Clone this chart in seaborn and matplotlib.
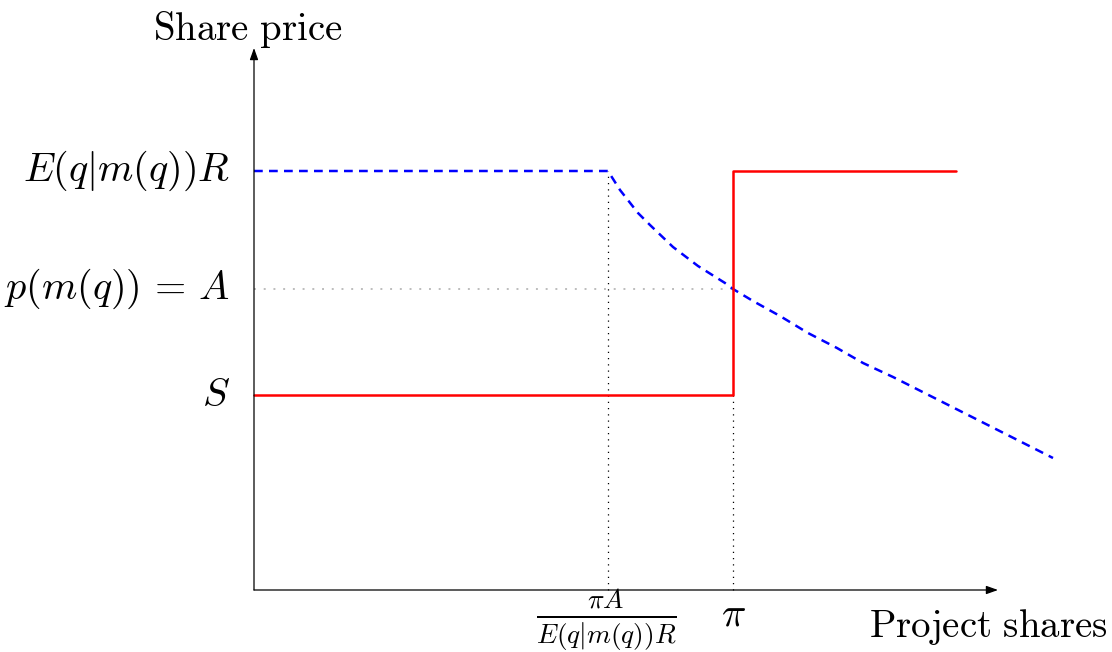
import matplotlib
matplotlib.use('Agg')
import matplotlib.pyplot as plt
import seaborn as sns

# Values (arbitrary units, origin at the axes corner)
x_cut = 3.54        # pi*A / E(q|m(q))R
x_pi = 4.79         # pi
x_red_end = 7.02
y_er = 4.19         # E(q|m(q))R
y_a = 3.01          # p(m(q)) = A
y_s = 1.95          # S

blue_x = [0, 3.54, 3.66, 3.84, 3.96, 4.19, 4.44, 4.71, 4.79, 4.99, 5.26,
          5.54, 5.83, 6.09, 6.39, 7.99]
blue_y = [4.19, 4.19, 4.00, 3.77, 3.65, 3.43, 3.24, 3.07, 3.01, 2.89, 2.74,
          2.57, 2.42, 2.27, 2.13, 1.32]

red_x = [0, x_pi, x_pi, x_red_end]
red_y = [y_s, y_s, y_er, y_er]

x_axis_end = 7.44
y_axis_end = 5.42

sns.set_style('white')
plt.rcParams['mathtext.fontset'] = 'cm'
plt.rcParams['font.family'] = ['DejaVu Serif']
plt.rcParams['text.color'] = 'black'

fig = plt.figure(figsize=(11.12, 6.52), dpi=100)
ax = fig.add_axes([0, 0, 1, 1])
ax.set_xlim(-2.54, 8.58)
ax.set_ylim(-0.62, 5.90)
ax.axis('off')

# guide lines
ax.plot([0, x_pi], [y_a, y_a], color='#bdbdbd', lw=1.4, linestyle=(0, (1, 4)))
ax.plot([x_cut, x_cut], [0, y_er], color='black', lw=0.9, linestyle=(0, (1, 4)))
ax.plot([x_pi, x_pi], [0, y_s], color='black', lw=0.9, linestyle=(0, (1, 4)))

sns.lineplot(x=blue_x, y=blue_y, ax=ax, color='blue', lw=1.8, sort=False,
             estimator=None, dashes=False, linestyle=(0, (3.5, 2.5)))
sns.lineplot(x=red_x, y=red_y, ax=ax, color='red', lw=1.8, sort=False,
             estimator=None)

# axes with arrow heads
arrow = dict(arrowstyle='-|>,head_length=0.7,head_width=0.25', color='black',
             lw=0.9, shrinkA=0, shrinkB=0)
ax.annotate('', xy=(x_axis_end, 0), xytext=(0, 0), arrowprops=arrow)
ax.annotate('', xy=(0, y_axis_end), xytext=(0, 0), arrowprops=arrow)

fs = 29
ax.text(-0.06, 5.60, r'$\mathrm{Share\ price}$', fontsize=28, ha='center', va='center')
ax.text(-0.24, y_er, r'$E(q|m(q))R$', fontsize=fs, ha='right', va='center')
ax.text(-0.24, y_a, r'$p(m(q))\,=\,A$', fontsize=fs, ha='right', va='center')
ax.text(-0.24, y_s, r'$S$', fontsize=fs, ha='right', va='center')
ax.text(x_cut - 0.02, -0.30, r'$\frac{\pi A}{E(q|m(q))R}$', fontsize=28,
        ha='center', va='center')
ax.text(x_pi, -0.25, r'$\pi$', fontsize=fs, ha='center', va='center')
ax.text(8.54, -0.37, r'$\mathrm{Project\ shares}$', fontsize=28, ha='right', va='center')

fig.savefig('out.png', dpi=100)
